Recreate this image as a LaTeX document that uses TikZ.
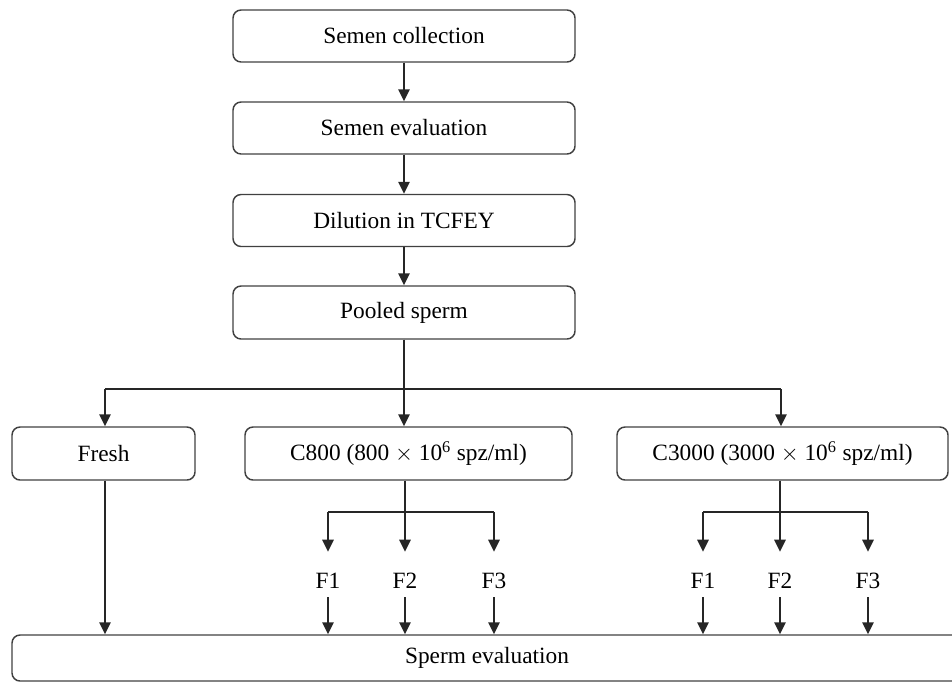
\documentclass[tikz,border=0pt]{standalone}
\usepackage{fontspec}
\setmainfont{Liberation Serif}
\usetikzlibrary{arrows.meta}
\begin{document}
\begin{tikzpicture}[x=0.75pt,y=-0.75pt,
  box/.style={draw=black!75, line width=1.1pt, rounded corners=6pt, inner sep=0pt,
    font=\fontsize{17.5}{21}\selectfont},
  lbl/.style={inner sep=0pt, text height=27pt, text depth=6.75pt, anchor=base,
    font=\fontsize{17.5}{21}\selectfont},
  link/.style={line width=1.3pt, draw=black!85},
  arr/.style={link, -{Triangle[length=9pt,width=8.5pt]}}]
\path[use as bounding box] (0,0) rectangle (952,682);
\clip (0,0) rectangle (952,682);
% main column
\node[box, minimum width=256.5pt, minimum height=39pt] (coll) at (404,36) {Semen collection};
\node[box, minimum width=256.5pt, minimum height=39pt] (eval) at (404,128) {Semen evaluation};
\node[box, minimum width=256.5pt, minimum height=39pt] (dil) at (404,220.5) {Dilution in TCFEY};
\node[box, minimum width=256.5pt, minimum height=39.75pt] (pool) at (404,312.5) {Pooled sperm};
% treatments
\node[box, minimum width=137.25pt, minimum height=39.75pt] (fresh) at (103.5,453.5) {Fresh};
\node[box, minimum width=245.25pt, minimum height=39.75pt] (c800) at (408.5,453.5) {C800 (800 $\times$ 10\textsuperscript{6} spz/ml)};
\node[box, minimum width=248.25pt, minimum height=39.75pt] (c3000) at (782.5,453.5) {C3000 (3000 $\times$ 10\textsuperscript{6} spz/ml)};
% final box
\node[box, minimum width=712.5pt, minimum height=34.5pt] (sperm) at (487,658) {Sperm evaluation};
% F labels
\node[lbl] (a1) at (328,588) {F1};
\node[lbl] (a2) at (405,588) {F2};
\node[lbl] (a3) at (494,588) {F3};
\node[lbl] (b1) at (703,588) {F1};
\node[lbl] (b2) at (780,588) {F2};
\node[lbl] (b3) at (868,588) {F3};
% main arrows
\draw[arr] (coll.south) -- (eval.north);
\draw[arr] (eval.south) -- (dil.north);
\draw[arr] (dil.south) -- (pool.north);
% split
\coordinate (h1) at (105,389);
\coordinate (h3) at (781,389);
\draw[link] (h1) -- (h3);
\draw[arr] (h1) -- (h1 |- fresh.north);
\draw[arr] (pool.south) -- (pool.south |- c800.north);
\draw[arr] (h3) -- (h3 |- c3000.north);
% fresh to final
\draw[arr] (h1 |- fresh.south) -- (h1 |- sperm.north);
% C800 branch
\coordinate (k1) at (405,512);
\draw[link] (a1.north |- k1) -- (a3.north |- k1);
\draw[arr] (a1.north |- k1) -- (a1.north);
\draw[arr] (a2.north |- c800.south) -- (a2.north);
\draw[arr] (a3.north |- k1) -- (a3.north);
% C3000 branch
\coordinate (k2) at (780,512);
\draw[link] (b1.north |- k2) -- (b3.north |- k2);
\draw[arr] (b1.north |- k2) -- (b1.north);
\draw[arr] (b2.north |- c3000.south) -- (b2.north);
\draw[arr] (b3.north |- k2) -- (b3.north);
% to final
\foreach \n in {a1,a2,a3,b1,b2,b3}
  \draw[arr] (\n.south) -- (\n.south |- sperm.north);
\end{tikzpicture}
\end{document}
